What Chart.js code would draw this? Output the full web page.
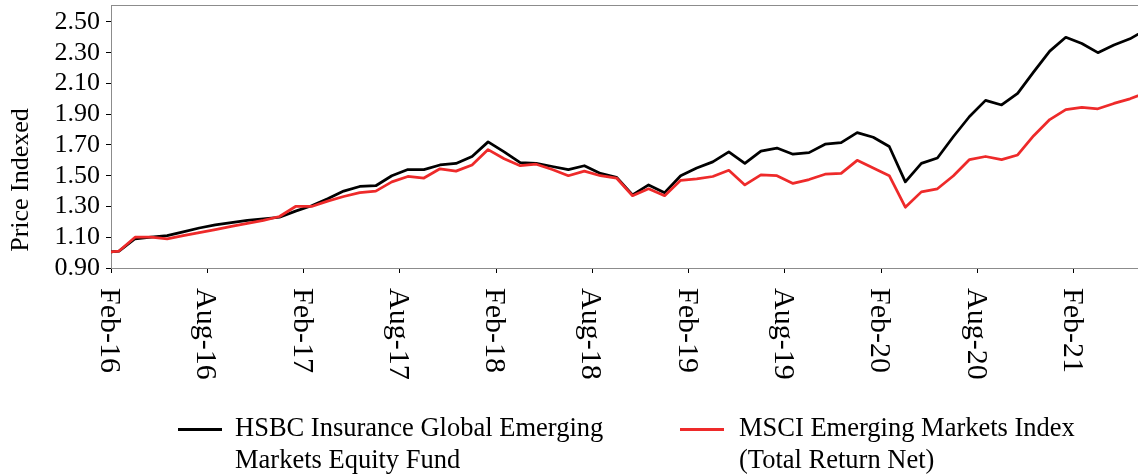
<!DOCTYPE html>
<html>
<head>
<meta charset="utf-8">
<title>Price Indexed</title>
<script src="https://cdn.jsdelivr.net/npm/chart.js@4.4.1/dist/chart.umd.min.js"></script>
<style>
  body { margin: 0; background: #fff; }
  #wrap { position: relative; width: 1138px; height: 474px; font-family: 'Liberation Serif', 'Times New Roman', serif; }
  #legend .swatch { position: absolute; width: 44px; height: 3px; }
  #legend .text { position: absolute; white-space: nowrap; font-size: 26.5px; line-height: 32px; color: #000; }
</style>
</head>
<body>
<div id="wrap">
  <canvas id="chart" width="1138" height="474"></canvas>
  <div id="legend"></div>
</div>
<script>
// month-end index levels, base = 1.00
const months = [
  'Jan-16','Feb-16','Mar-16','Apr-16','May-16','Jun-16','Jul-16','Aug-16','Sep-16','Oct-16','Nov-16','Dec-16',
  'Jan-17','Feb-17','Mar-17','Apr-17','May-17','Jun-17','Jul-17','Aug-17','Sep-17','Oct-17','Nov-17','Dec-17',
  'Jan-18','Feb-18','Mar-18','Apr-18','May-18','Jun-18','Jul-18','Aug-18','Sep-18','Oct-18','Nov-18','Dec-18',
  'Jan-19','Feb-19','Mar-19','Apr-19','May-19','Jun-19','Jul-19','Aug-19','Sep-19','Oct-19','Nov-19','Dec-19',
  'Jan-20','Feb-20','Mar-20','Apr-20','May-20','Jun-20','Jul-20','Aug-20','Sep-20','Oct-20','Nov-20','Dec-20',
  'Jan-21','Feb-21','Mar-21','Apr-21','May-21','Jun-21'
];

const fundValues = [
  1.00, 1.01, 1.09, 1.10, 1.11, 1.135, 1.16, 1.18, 1.195, 1.21, 1.22, 1.23,
  1.27, 1.305, 1.35, 1.40, 1.43, 1.435, 1.50, 1.54, 1.54, 1.57, 1.58, 1.625,
  1.72, 1.655, 1.585, 1.58, 1.56, 1.54, 1.565, 1.515, 1.49, 1.375, 1.44, 1.39,
  1.50, 1.55, 1.59, 1.655, 1.58, 1.66, 1.68, 1.64, 1.65, 1.705, 1.715, 1.78,
  1.75, 1.69, 1.46, 1.58, 1.615, 1.755, 1.885, 1.99, 1.96, 2.035, 2.175, 2.31,
  2.40, 2.36, 2.30, 2.35, 2.39, 2.45
];

const indexValues = [
  1.00, 1.01, 1.10, 1.10, 1.09, 1.11, 1.13, 1.15, 1.17, 1.19, 1.21, 1.235,
  1.30, 1.30, 1.335, 1.365, 1.39, 1.40, 1.46, 1.495, 1.485, 1.545, 1.53, 1.57,
  1.67, 1.61, 1.565, 1.575, 1.54, 1.50, 1.53, 1.50, 1.485, 1.37, 1.415, 1.37,
  1.47, 1.48, 1.495, 1.535, 1.44, 1.505, 1.50, 1.45, 1.475, 1.51, 1.515, 1.60,
  1.55, 1.50, 1.295, 1.395, 1.415, 1.50, 1.605, 1.625, 1.605, 1.635, 1.76, 1.865,
  1.93, 1.945, 1.935, 1.97, 2.00, 2.04
];

const tickLabels = ['Feb-16','Aug-16','Feb-17','Aug-17','Feb-18','Aug-18','Feb-19','Aug-19','Feb-20','Aug-20','Feb-21'];
const yTicks = [0.90, 1.10, 1.30, 1.50, 1.70, 1.90, 2.10, 2.30, 2.50];

const fundLegend = ['HSBC Insurance Global Emerging', 'Markets Equity Fund'];
const indexLegend = ['MSCI Emerging Markets Index', '(Total Return Net)'];

const SERIF = "'Liberation Serif', 'Times New Roman', serif";
Chart.defaults.font.family = SERIF;
Chart.defaults.color = '#000';

// month boundaries sit half a step before each month-end point
const tickPos = tickLabels.map(l => months.indexOf(l) - 0.5);

function toPoints(values) {
  return values.map((v, i) => ({ x: i, y: v }));
}

// rotated month labels under the axis and the y title
const axisText = {
  id: 'axisText',
  afterDraw(chart) {
    const { ctx, chartArea } = chart;
    const x = chart.scales.x;
    ctx.save();
    ctx.fillStyle = '#000';
    ctx.font = '30px ' + SERIF;
    ctx.textAlign = 'left';
    ctx.textBaseline = 'alphabetic';
    tickPos.forEach((p, i) => {
      ctx.save();
      ctx.translate(x.getPixelForValue(p), chartArea.bottom + 20);
      ctx.rotate(Math.PI / 2);
      ctx.fillText(tickLabels[i], 0, 10);
      ctx.restore();
    });
    ctx.font = '26px ' + SERIF;
    ctx.textAlign = 'center';
    ctx.translate(28, 180);
    ctx.rotate(-Math.PI / 2);
    ctx.fillText('Price Indexed', 0, 0);
    ctx.restore();
  }
};

const chart = new Chart(document.getElementById('chart'), {
  type: 'line',
  data: {
    datasets: [
      {
        label: fundLegend.join(' '),
        data: toPoints(fundValues),
        borderColor: '#000000',
        borderWidth: 2.75,
        order: 1
      },
      {
        label: indexLegend.join(' '),
        data: toPoints(indexValues),
        borderColor: '#ee2a2a',
        borderWidth: 2.75,
        order: 0
      }
    ]
  },
  options: {
    responsive: false,
    animation: false,
    events: [],
    layout: { padding: { top: 5, right: 0, bottom: 0, left: 0 } },
    elements: {
      line: { tension: 0, borderJoinStyle: 'round' },
      point: { radius: 0 }
    },
    datasets: { line: { clip: 0 } },
    plugins: {
      legend: { display: false },
      tooltip: { enabled: false }
    },
    scales: {
      x: {
        type: 'linear',
        min: tickPos[0],
        max: 64.5,
        afterBuildTicks: axis => { axis.ticks = tickPos.map(v => ({ value: v })); },
        afterFit: axis => {
          axis.height = 206;
          axis.paddingLeft = 0;
          axis.paddingRight = 0;
        },
        ticks: { display: false },
        grid: { drawOnChartArea: false, drawTicks: true, tickLength: 5, color: '#000' },
        border: { color: '#8c8c8c', width: 1 }
      },
      top: {
        type: 'linear',
        position: 'top',
        afterFit: axis => {
          axis.height = 0;
          axis.paddingLeft = 0;
          axis.paddingRight = 0;
        },
        ticks: { display: false },
        grid: { display: false, drawTicks: false },
        border: { display: true, color: '#8c8c8c', width: 1 }
      },
      y: {
        min: 0.9,
        max: 2.61,
        afterBuildTicks: axis => { axis.ticks = yTicks.map(v => ({ value: v })); },
        afterFit: axis => {
          axis.width = 111;
          axis.paddingTop = 0;
          axis.paddingBottom = 0;
        },
        ticks: {
          autoSkip: false,
          padding: 6,
          font: { size: 26 },
          color: '#000',
          callback: v => v.toFixed(2)
        },
        grid: { drawOnChartArea: false, drawTicks: true, tickLength: 5, color: '#000' },
        border: { color: '#8c8c8c', width: 1 }
      }
    }
  },
  plugins: [axisText]
});

// two-line legend entries under the plot
const legendItems = [
  { lines: fundLegend, color: '#000000', left: 178, textLeft: 235 },
  { lines: indexLegend, color: '#ee2a2a', left: 680, textLeft: 739 }
];
const legend = document.getElementById('legend');
legendItems.forEach(item => {
  const sw = document.createElement('div');
  sw.className = 'swatch';
  sw.style.left = item.left + 'px';
  sw.style.top = '428px';
  sw.style.background = item.color;
  legend.appendChild(sw);
  const tx = document.createElement('div');
  tx.className = 'text';
  tx.style.left = item.textLeft + 'px';
  tx.style.top = '411px';
  tx.innerHTML = item.lines.join('<br>');
  legend.appendChild(tx);
});
</script>
</body>
</html>
